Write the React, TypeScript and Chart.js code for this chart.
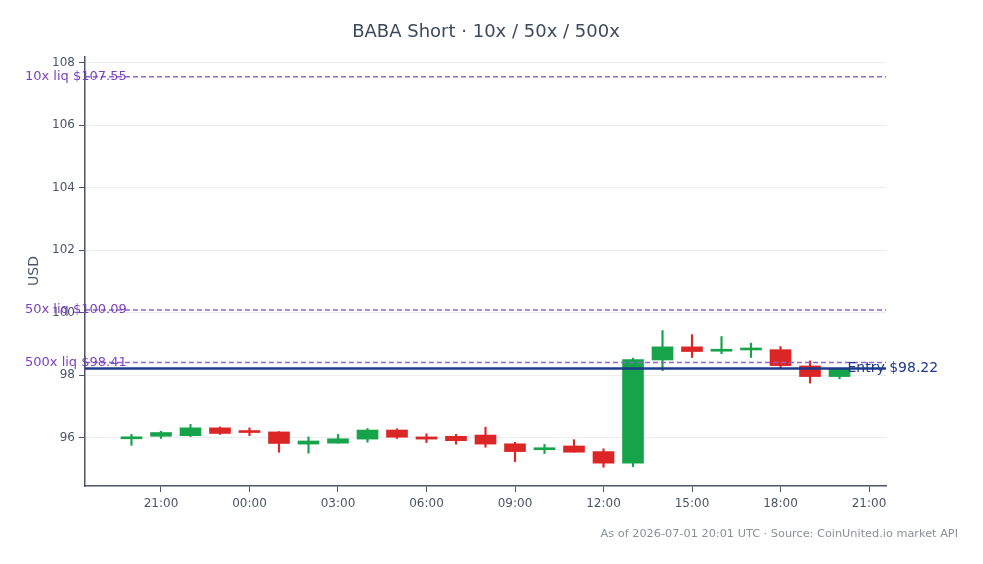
import React, { useEffect, useRef } from "react";
import { Chart, registerables } from "chart.js";

Chart.register(...registerables);

// Hours relative to 2026-07-01 00:00 UTC
const hours = [-4, -3, -2, -1, 0, 1, 2, 3, 4, 5, 6, 7, 8, 9, 10, 11, 12, 13, 14, 15, 16, 17, 18, 19, 20];
const opens = [95.97, 96.05, 96.07, 96.32, 96.23, 96.19, 95.80, 95.83, 95.96, 96.25, 96.03, 96.05, 96.09, 95.81, 95.62, 95.74, 95.56, 95.19, 98.49, 98.91, 98.77, 98.81, 98.82, 98.30, 97.96];
const highs = [96.11, 96.21, 96.43, 96.35, 96.32, 96.20, 96.03, 96.11, 96.30, 96.29, 96.13, 96.11, 96.34, 95.86, 95.79, 95.94, 95.65, 98.55, 99.43, 99.30, 99.24, 99.03, 98.92, 98.46, 98.22];
const lows = [95.76, 95.98, 96.04, 96.11, 96.07, 95.54, 95.51, 95.83, 95.86, 95.98, 95.85, 95.80, 95.70, 95.24, 95.50, 95.54, 95.06, 95.08, 98.15, 98.57, 98.69, 98.57, 98.23, 97.75, 97.89];
const closes = [96.03, 96.17, 96.32, 96.14, 96.17, 95.82, 95.90, 95.97, 96.25, 96.02, 95.96, 95.91, 95.80, 95.56, 95.66, 95.54, 95.19, 98.50, 98.91, 98.76, 98.81, 98.84, 98.31, 97.96, 98.22];

const xTickValues = [-3, 0, 3, 6, 9, 12, 15, 18, 21];
const xTickLabels = ["21:00", "00:00", "03:00", "06:00", "09:00", "12:00", "15:00", "18:00", "21:00"];
const yTickValues = [96, 98, 100, 102, 104, 106, 108];

const liqValues = [107.55, 100.09, 98.41];
const liqLabels = ["10x liq $107.55", "50x liq $100.09", "500x liq $98.41"];
const entryValue = 98.22;
const entryLabel = "Entry $98.22";

const titleText = "BABA Short · 10x / 50x / 500x";
const footerText = "As of 2026-07-01 20:01 UTC · Source: CoinUnited.io market API";
const yAxisTitle = "USD";

const FONT = "'DejaVu Sans', sans-serif";
const GREEN = "#16a34a";
const RED = "#dc2626";
const TEXT = "#4a5568";

export default function App() {
  const ref = useRef<HTMLCanvasElement | null>(null);

  useEffect(() => {
    const canvas = ref.current;
    if (!canvas) return;
    const colors = opens.map((o, i) => (closes[i] >= o ? GREEN : RED));

    const overlay = {
      id: "overlay",
      afterDatasetsDraw(chart: any) {
        const { ctx, chartArea, scales } = chart;
        const y = scales.y;
        const x = scales.x;
        ctx.save();
        liqValues.forEach((v, i) => {
          const py = y.getPixelForValue(v);
          ctx.strokeStyle = "#9461d6";
          ctx.lineWidth = 1.5;
          ctx.setLineDash([5, 3]);
          ctx.beginPath();
          ctx.moveTo(chartArea.left, py);
          ctx.lineTo(chartArea.right, py);
          ctx.stroke();
          ctx.setLineDash([]);
          ctx.fillStyle = "#7b3fbf";
          ctx.font = `13px ${FONT}`;
          ctx.textAlign = "left";
          ctx.textBaseline = "middle";
          ctx.fillText(liqLabels[i], 25, py);
        });
        const ey = y.getPixelForValue(entryValue);
        ctx.strokeStyle = "#1e3a8a";
        ctx.lineWidth = 2.5;
        ctx.beginPath();
        ctx.moveTo(chartArea.left, ey);
        ctx.lineTo(chartArea.right, ey);
        ctx.stroke();
        ctx.fillStyle = "#1e3a8a";
        ctx.font = `14px ${FONT}`;
        ctx.textAlign = "left";
        ctx.textBaseline = "middle";
        ctx.fillText(entryLabel, x.getPixelForValue(hours[hours.length - 1] + 0.27), ey);
        ctx.restore();
      },
      afterDraw(chart: any) {
        const { ctx } = chart;
        ctx.save();
        ctx.fillStyle = "#3b4a5c";
        ctx.font = `18px ${FONT}`;
        ctx.textAlign = "center";
        ctx.textBaseline = "middle";
        ctx.fillText(titleText, 486, 32);
        ctx.fillStyle = "#8a8f98";
        ctx.font = `11.3px ${FONT}`;
        ctx.textAlign = "right";
        ctx.fillText(footerText, 958, 534);
        ctx.fillStyle = TEXT;
        ctx.font = `14px ${FONT}`;
        ctx.translate(34, 271);
        ctx.rotate(-Math.PI / 2);
        ctx.textAlign = "center";
        ctx.fillText(yAxisTitle, 0, 0);
        ctx.restore();
      },
    };

    const chart = new Chart(canvas, {
      type: "bar",
      data: {
        datasets: [
          {
            label: "body",
            data: hours.map((h, i) => ({ x: h, y: [opens[i], closes[i]] })) as any,
            backgroundColor: colors,
            borderWidth: 0,
            barThickness: 21,
            minBarLength: 2,
            grouped: false,
            order: 1,
          } as any,
          {
            label: "wick",
            data: hours.map((h, i) => ({ x: h, y: [lows[i], highs[i]] })) as any,
            backgroundColor: colors,
            borderWidth: 0,
            barThickness: 1.5,
            grouped: false,
            order: 2,
          } as any,
        ],
      },
      options: {
        responsive: false,
        animation: false,
        layout: { padding: { top: 57, right: 97, left: 0, bottom: 0 } },
        plugins: {
          legend: { display: false },
          title: { display: false },
          tooltip: { enabled: false },
        },
        scales: {
          x: {
            type: "linear",
            offset: false,
            min: -5.576,
            max: 21.576,
            afterFit: (s: any) => {
              s.height = 78;
            },
            afterBuildTicks: (s: any) => {
              s.ticks = xTickValues.map((v) => ({ value: v }));
            },
            grid: {
              display: true,
              offset: false,
              drawOnChartArea: false,
              drawTicks: true,
              tickLength: 6,
              tickColor: TEXT,
            },
            border: { display: true, color: TEXT, width: 1.5 },
            ticks: {
              color: TEXT,
              font: { family: FONT, size: 12 },
              padding: 5,
              maxRotation: 0,
              autoSkip: false,
              callback: (v: any) => {
                const i = xTickValues.indexOf(Number(v));
                return i >= 0 ? xTickLabels[i] : "";
              },
            },
          },
          y: {
            type: "linear",
            min: 94.46,
            max: 108.18,
            afterFit: (s: any) => {
              s.width = 85;
            },
            afterBuildTicks: (s: any) => {
              s.ticks = yTickValues.map((v) => ({ value: v }));
            },
            grid: {
              display: true,
              drawOnChartArea: true,
              color: "#e9ecf0",
              lineWidth: 1,
              drawTicks: true,
              tickLength: 6,
              tickColor: TEXT,
            },
            border: { display: true, color: TEXT, width: 1.5 },
            ticks: {
              color: TEXT,
              font: { family: FONT, size: 12 },
              padding: 4,
              autoSkip: false,
              callback: (v: any) => String(v),
            },
          },
        },
      },
      plugins: [overlay],
    } as any);

    return () => chart.destroy();
  }, []);

  return (
    <div style={{ position: "absolute", left: 0, top: 0, width: 983, height: 564, background: "#ffffff" }}>
      <canvas ref={ref} width={983} height={564} style={{ display: "block", width: 983, height: 564 }} />
    </div>
  );
}
